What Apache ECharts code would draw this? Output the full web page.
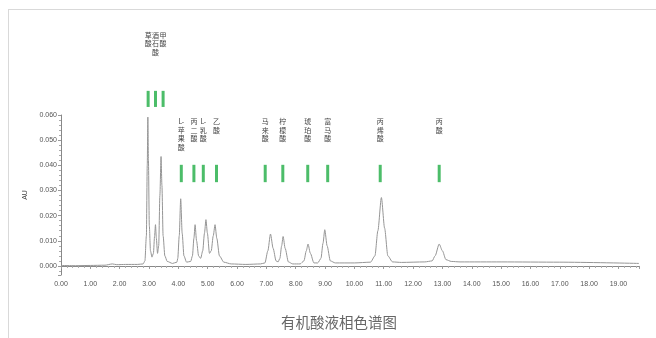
<!DOCTYPE html>
<html>
<head>
<meta charset="utf-8">
<script src="https://cdn.jsdelivr.net/npm/echarts@6/dist/echarts.min.js"></script>
<style>
  html, body { margin: 0; padding: 0; background: #fff; }
  #frame { position: absolute; left: 8px; top: 9px; width: 648px; height: 329px;
           border-top: 1px solid #d9d9d9; border-left: 1px solid #d9d9d9; box-sizing: border-box; }
  #chart { position: absolute; left: 0; top: 0; width: 656px; height: 338px; }
</style>
</head>
<body>
<div id="frame"></div>
<div id="chart"></div>
<script>
// Chromatogram trace: retention time (min) and absorbance (AU)
const traceTime = [
  0, 0.5, 1.0, 1.5, 1.75, 1.9, 2.2, 2.6, 2.8,
  2.86, 2.91, 2.94, 2.96, 2.98, 3.01, 3.05, 3.10,
  3.15, 3.19, 3.22, 3.25, 3.29,
  3.33, 3.37, 3.41, 3.44, 3.48, 3.54, 3.62, 3.8, 3.95,
  3.98, 4.03, 4.08, 4.13, 4.19, 4.28, 4.42,
  4.48, 4.53, 4.57, 4.62, 4.69, 4.76,
  4.83, 4.89, 4.94, 4.99, 5.06,
  5.12, 5.19, 5.25, 5.31, 5.40, 5.55, 5.8,
  6.3, 6.8,
  6.95, 7.05, 7.14, 7.23, 7.33, 7.40,
  7.46, 7.52, 7.57, 7.64, 7.75, 7.9,
  8.15,
  8.28, 8.36, 8.42, 8.50, 8.62, 8.75,
  8.86, 8.93, 8.99, 9.07, 9.18, 9.35,
  10.0, 10.55,
  10.7, 10.8, 10.92, 11.03, 11.14, 11.3, 11.6,
  12.4, 12.65,
  12.75, 12.89, 13.0, 13.12, 13.3, 13.6,
  15, 17, 19.7
];
const traceAU = [
  0.0002, 0.0001, 0.0002, 0.0003, 0.0008, 0.0005, 0.0006, 0.0006, 0.0008,
  0.002, 0.012, 0.040, 0.0592, 0.042, 0.016, 0.006, 0.0035,
  0.005, 0.012, 0.0164, 0.011, 0.005,
  0.008, 0.028, 0.0435, 0.032, 0.012, 0.004, 0.0018, 0.001, 0.0015,
  0.003, 0.012, 0.0267, 0.013, 0.004, 0.0015, 0.0018,
  0.004, 0.011, 0.0164, 0.010, 0.004, 0.003,
  0.006, 0.013, 0.0184, 0.013, 0.005,
  0.006, 0.012, 0.0164, 0.011, 0.004, 0.0015, 0.0008,
  0.0006, 0.0008,
  0.0012, 0.006, 0.0127, 0.007, 0.002, 0.0016,
  0.003, 0.008, 0.0117, 0.007, 0.0016, 0.0008,
  0.0008,
  0.002, 0.006, 0.0087, 0.005, 0.0012, 0.0012,
  0.003, 0.009, 0.0144, 0.008, 0.002, 0.0012,
  0.0012, 0.0015,
  0.004, 0.014, 0.0272, 0.015, 0.004, 0.0016, 0.0014,
  0.0016, 0.002,
  0.004, 0.0087, 0.006, 0.0025, 0.0018, 0.0016,
  0.0016, 0.0015, 0.001
];

// Identified acids and the retention time each marker points at
const acidNames = ['草酸', '酒石酸', '甲酸', 'L-苹果酸', '丙二酸', 'L-乳酸', '乙酸',
                   '马来酸', '柠檬酸', '琥珀酸', '富马酸', '丙烯酸', '丙酸'];
const acidTimes = [2.97, 3.22, 3.48, 4.10, 4.53, 4.85, 5.30,
                   6.96, 7.56, 8.41, 9.09, 10.88, 12.89];

const xTicks = [0, 1, 2, 3, 4, 5, 6, 7, 8, 9, 10, 11, 12, 13, 14, 15, 16, 17, 18, 19];
const yTicks = [0, 0.01, 0.02, 0.03, 0.04, 0.05, 0.06];

const trace = traceTime.map((t, i) => [t, traceAU[i]]);
const markers = acidTimes.map((t, i) => [t, i]);

const labelFont = '"Noto Sans CJK SC", "Noto Sans", sans-serif';

function renderMarker(params, api) {
  const t = api.value(0);
  const idx = api.value(1);
  const high = idx < 3;
  const barTop = high ? 0.0696 : 0.0402;
  const barBot = high ? 0.0632 : 0.0333;
  const textTop = high ? 0.0935 : 0.0590;
  const p1 = api.coord([t, barTop]);
  const p2 = api.coord([t, barBot]);
  const pt = api.coord([t, textTop]);
  const name = acidNames[idx];
  const chars = name.startsWith('L-') ? ['L-'].concat(name.slice(2).split('')) : name.split('');
  return {
    type: 'group',
    children: [
      {
        type: 'rect',
        shape: { x: p1[0] - 1.5, y: p1[1], width: 3, height: p2[1] - p1[1] },
        style: { fill: '#4cbd69' }
      },
      {
        type: 'text',
        x: pt[0], y: pt[1],
        style: {
          text: chars.join('\n'),
          font: '7px ' + labelFont,
          lineHeight: 8.5,
          fill: '#444',
          align: 'center',
          verticalAlign: 'top'
        }
      }
    ]
  };
}

const chart = echarts.init(document.getElementById('chart'), null, { renderer: 'canvas' });
chart.setOption({
  animation: false,
  backgroundColor: 'transparent',
  title: {
    text: '有机酸液相色谱图',
    left: 334, top: 310, textAlign: 'center',
    textStyle: { fontSize: 14.5, fontWeight: 'normal', color: '#666', fontFamily: labelFont }
  },
  grid: { left: 61, right: 17, top: 115, bottom: 63 },
  xAxis: {
    type: 'value', min: 0, max: 19.7, interval: 1,
    axisLine: { lineStyle: { color: '#888', width: 1 } },
    axisTick: { show: true, length: 3, lineStyle: { color: '#999' } },
    minorTick: { show: true, splitNumber: 5, length: 2, lineStyle: { color: '#aaa' } },
    splitLine: { show: false },
    axisLabel: {
      fontSize: 7, color: '#555', margin: 6, showMaxLabel: false,
      fontFamily: '"Liberation Sans", Arial, sans-serif',
      formatter: v => xTicks.includes(Math.round(v * 100) / 100) ? v.toFixed(2) : ''
    }
  },
  yAxis: {
    type: 'value', min: -0.0036, max: 0.06, splitNumber: 6,
    name: 'AU', nameLocation: 'middle', nameGap: 26, nameRotate: 90,
    nameTextStyle: { fontSize: 7, color: '#444', fontFamily: '"Liberation Sans", Arial, sans-serif' },
    axisLine: { show: true, lineStyle: { color: '#888', width: 1 } },
    axisTick: { show: true, length: 3, lineStyle: { color: '#999' } },
    minorTick: { show: true, splitNumber: 5, length: 2, lineStyle: { color: '#aaa' } },
    splitLine: { show: false },
    axisLabel: {
      fontSize: 7, color: '#555', margin: 4, showMinLabel: false,
      fontFamily: '"Liberation Sans", Arial, sans-serif',
      formatter: v => yTicks.some(y => Math.abs(y - v) < 1e-9) ? v.toFixed(3) : ''
    }
  },
  series: [
    {
      type: 'line',
      data: trace,
      showSymbol: false,
      smooth: 0.25,
      smoothMonotone: 'x',
      lineStyle: { color: '#959595', width: 1 },
      z: 2
    },
    {
      type: 'custom',
      data: markers,
      renderItem: renderMarker,
      clip: false,
      z: 3
    }
  ]
});
</script>
</body>
</html>
